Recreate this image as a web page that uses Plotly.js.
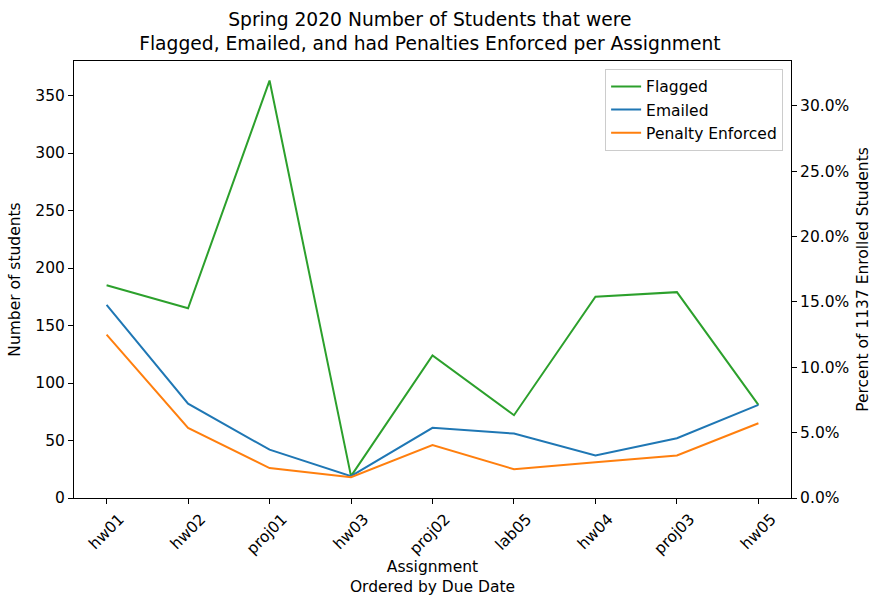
<!DOCTYPE html>
<html>
<head>
<meta charset="utf-8">
<script src="https://cdn.plot.ly/plotly-3.0.1.min.js"></script>
<style>html,body{margin:0;padding:0;background:#fff;}#chart{width:872px;height:596px;}</style>
</head>
<body>
<div id="chart"></div>
<script>
const assignments = ["hw01", "hw02", "proj01", "hw03", "proj02", "lab05", "hw04", "proj03", "hw05"];
const flagged = [185, 165, 363, 19, 124, 72, 175, 179, 81];
const emailed = [168, 82, 42, 19, 61, 56, 37, 52, 81];
const penalty = [142, 61, 26, 18, 46, 25, 31, 37, 65];
const enrolled = 1137;
const yMax = 380;

const font = "DejaVu Sans, sans-serif";
const fs = 15.5;
const idx = assignments.map((_, i) => i);

const traces = [
  {x: idx, y: flagged, name: "Flagged", mode: "lines", line: {color: "#2ca02c", width: 2}},
  {x: idx, y: emailed, name: "Emailed", mode: "lines", line: {color: "#1f77b4", width: 2}},
  {x: idx, y: penalty, name: "Penalty Enforced", mode: "lines", line: {color: "#ff7f0e", width: 2}},
  {x: [0], y: [0], yaxis: "y2", mode: "lines", showlegend: false, hoverinfo: "skip", line: {color: "rgba(0,0,0,0)"}}
];

const layout = {
  width: 872, height: 596,
  margin: {l: 74, r: 81, t: 61, b: 98},
  paper_bgcolor: "#fff", plot_bgcolor: "#fff",
  font: {family: font, size: fs, color: "#000"},
  title: {text: "Spring 2020 Number of Students that were<br>Flagged, Emailed, and had Penalties Enforced per Assignment",
          font: {family: font, size: 18.7, color: "#000"}, x: 0.493, xanchor: "center",
          yref: "container", y: 1 - 26 / 596, yanchor: "top"},
  xaxis: {
    range: [-0.4, 8.4], tickmode: "array", tickvals: idx, ticktext: assignments,
    tickangle: -45, ticks: "outside", ticklen: 5, tickcolor: "#000", ticklabelshift: 13,
    showline: true, linecolor: "#000", linewidth: 1, mirror: true, showgrid: false, zeroline: false,
    title: {text: "Assignment<br>Ordered by Due Date", font: {family: font, size: fs}, standoff: 13}
  },
  yaxis: {
    range: [0, yMax], dtick: 50, ticks: "outside", ticklen: 5, tickcolor: "#000",
    showline: true, linecolor: "#000", linewidth: 1, showgrid: false, zeroline: false,
    title: {text: "Number of students", font: {family: font, size: fs}, standoff: 10}
  },
  yaxis2: {
    overlaying: "y", side: "right", range: [0, yMax / enrolled], dtick: 0.05, tickformat: ".1%",
    ticks: "outside", ticklen: 5, tickcolor: "#000",
    showline: true, linecolor: "#000", linewidth: 1, showgrid: false, zeroline: false,
    title: {text: "Percent of 1137 Enrolled Students", font: {family: font, size: fs}, standoff: 16}
  },
  legend: {x: 0.989, xanchor: "right", y: 0.982, yanchor: "top",
           bgcolor: "rgba(255,255,255,0.8)", bordercolor: "#cccccc", borderwidth: 1,
           font: {family: font, size: fs}, tracegroupgap: 0}
};

Plotly.newPlot("chart", traces, layout, {displayModeBar: false, staticPlot: true});
</script>
</body>
</html>
